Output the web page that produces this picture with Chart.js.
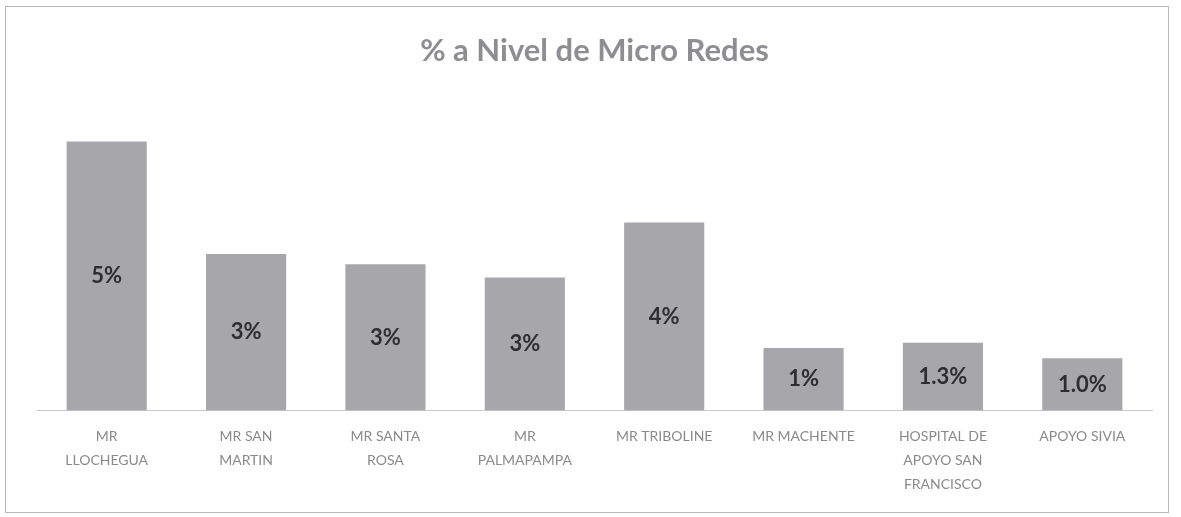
<!DOCTYPE html>
<html>
<head>
<meta charset="utf-8">
<script src="https://cdn.jsdelivr.net/npm/chart.js@4"></script>
<style>
  html, body { margin: 0; padding: 0; background: #fff; }
  #wrap { position: relative; width: 1181px; height: 517px; }
  #frame {
    position: absolute; left: 5px; top: 6px; width: 1162px; height: 505px;
    border: 1px solid #b8b8b8; pointer-events: none;
  }
</style>
</head>
<body>
<div id="wrap">
  <canvas id="chart" width="1181" height="517"></canvas>
  <div id="frame"></div>
</div>
<script>
// data
const categories = [
    ['MR', 'LLOCHEGUA'],
    ['MR SAN', 'MARTIN'],
    ['MR SANTA', 'ROSA'],
    ['MR', 'PALMAPAMPA'],
    'MR TRIBOLINE',
    'MR MACHENTE',
    ['HOSPITAL DE', 'APOYO SAN', 'FRANCISCO'],
    'APOYO SIVIA'
];
const percentValues = [5.15, 3.0, 2.8, 2.55, 3.6, 1.2, 1.3, 1.0];
const labelDecimals = [0, 0, 0, 0, 0, 0, 1, 1];

// labels written in the middle of each bar
const barLabels = {
    id: 'barLabels',
    afterDatasetsDraw(chart) {
        const ctx = chart.ctx;
        const meta = chart.getDatasetMeta(0);
        ctx.save();
        ctx.font = 'bold 22px Lato, "Open Sans", sans-serif';
        ctx.fillStyle = '#2e2e30';
        ctx.textAlign = 'center';
        ctx.textBaseline = 'middle';
        meta.data.forEach((bar, i) => {
            const v = percentValues[i];
            const text = v.toFixed(labelDecimals[i]) + '%';
            ctx.fillText(text, bar.x, (bar.y + bar.base) / 2);
        });
        ctx.restore();
    }
};

new Chart(document.getElementById('chart').getContext('2d'), {
    type: 'bar',
    data: {
        labels: categories,
        datasets: [{
            label: '% a Nivel de Micro Redes',
            data: percentValues,
            backgroundColor: '#a7a7ab',
            borderWidth: 0,
            categoryPercentage: 1,
            barPercentage: 0.575
        }]
    },
    options: {
        responsive: false,
        animation: false,
        layout: {
            padding: { left: 37, right: 29, top: 0, bottom: 7 }
        },
        plugins: {
            legend: { display: false },
            tooltip: { enabled: false },
            title: {
                display: true,
                text: '% a Nivel de Micro Redes',
                color: '#8e8e92',
                font: { family: 'Lato, "Open Sans", sans-serif', size: 31, weight: 'bold' },
                padding: { top: 32, bottom: 28 }
            }
        },
        scales: {
            x: {
                grid: { display: false, drawTicks: false },
                border: { display: true, color: '#c8c8c8', width: 1 },
                ticks: {
                    color: '#8a8a8a',
                    maxRotation: 0,
                    autoSkip: false,
                    padding: 14,
                    font: { family: 'Lato, "Open Sans", sans-serif', size: 14, lineHeight: 1.7 }
                }
            },
            y: {
                display: false,
                min: 0,
                max: 6
            }
        }
    },
    plugins: [barLabels]
});
</script>
</body>
</html>
